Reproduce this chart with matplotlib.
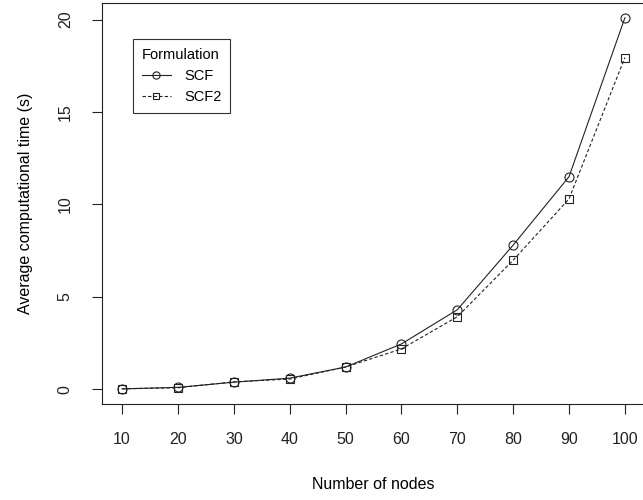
import matplotlib.pyplot as plt

plt.rcParams['font.family'] = ['Liberation Sans', 'DejaVu Sans']

# number of nodes and average time (s) per formulation
nodes = [10, 20, 30, 40, 50, 60, 70, 80, 90, 100]
scf = [0.02, 0.1, 0.38, 0.6, 1.2, 2.45, 4.3, 7.8, 11.5, 20.1]
scf2 = [0.02, 0.08, 0.4, 0.55, 1.2, 2.18, 3.92, 6.98, 10.3, 17.95]

fig = plt.figure(figsize=(6.43, 5.0), dpi=100)
ax = fig.add_axes([102 / 643, 96 / 500, 543 / 643, 401 / 500])

ax.plot(nodes, scf, color='#222222', lw=0.8, marker='o', markersize=6.5,
        markerfacecolor='none', markeredgewidth=0.8, label='SCF')
ax.plot(nodes, scf2, color='#222222', lw=0.8, ls=(0, (3, 2)), marker='s', markersize=5.5,
        markerfacecolor='none', markeredgewidth=0.8, label='SCF2')

ax.set_xlim(6.4, 103.6)
ax.set_ylim(-0.8, 20.9)
ax.set_xticks(nodes)
ax.set_yticks([0, 5, 10, 15, 20])
ax.tick_params(direction='out', length=7, width=0.8, labelsize=11.5, colors='#222222')
ax.tick_params(axis='x', pad=13)
ax.tick_params(axis='y', pad=14)
for lab in ax.get_yticklabels():
    lab.set_rotation(90)
    lab.set_va('center')
for s in ax.spines.values():
    s.set_linewidth(0.8)
    s.set_color('#222222')

ax.set_xlabel('Number of nodes', fontsize=11.5, labelpad=22)
ax.set_ylabel('Average computational time (s)', fontsize=11.5, labelpad=18)

leg = ax.legend(title='Formulation', loc='upper left', bbox_to_anchor=(0.057, 0.91),
                fancybox=False, edgecolor='#333333', framealpha=1, fontsize=10.5,
                title_fontsize=10.5, alignment='left', handlelength=2.0, handletextpad=0.9,
                borderpad=0.6, borderaxespad=0, labelspacing=0.5, markerscale=0.8)
leg.get_frame().set_linewidth(0.8)

plt.savefig('out.png', dpi=100)
